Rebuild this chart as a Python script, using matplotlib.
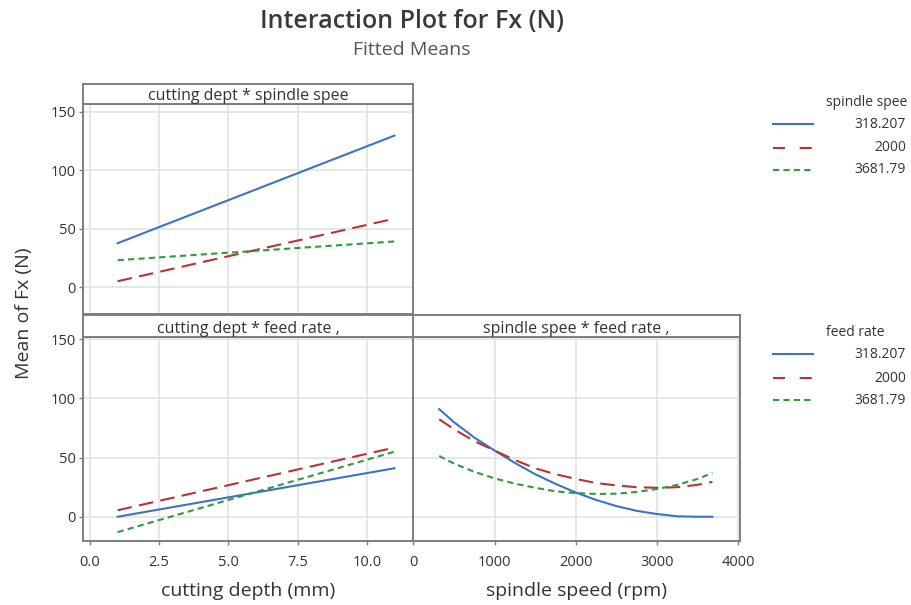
import numpy as np
import matplotlib
matplotlib.use("Agg")
import matplotlib.pyplot as plt
from matplotlib.lines import Line2D

plt.rcParams['font.family'] = ['Open Sans', 'DejaVu Sans']

# ---- data ----
levels = ["318.207", "2000", "3681.79"]
depth = [1, 11]

# cutting depth * spindle speed (one line per spindle speed level)
ds_blue = [37.5, 129.5]
ds_red = [5, 58.5]
ds_green = [23, 39]

# cutting depth * feed rate
df_blue = [0, 41]
df_red = [5.5, 58.5]
df_green = [-13, 55]

# spindle speed * feed rate
speed = [318.207, 500, 750, 1000, 1250, 1500, 1750, 2000, 2250, 2500, 2750, 3000, 3250, 3500, 3681.79]
sf_blue = [91, 80, 67, 56, 45.5, 36, 27.8, 20.5, 14.2, 9, 5, 2.3, 0.4, 0, 0]
sf_red = [82.5, 74, 64, 56, 48, 41, 36, 32, 28.5, 26.5, 25, 24.5, 25, 27, 29.5]
sf_green = [51.4, 45, 38, 32.5, 28, 24.5, 21.5, 20, 19.3, 19.5, 21, 23.5, 27, 32, 37]

colors = ['#3a74c2', '#b83333', '#2e9c3c']
styles = ['-', (0, (7, 3.5)), (0, (3, 2))]
legend_styles = ['-', (0, (5.8, 7)), (0, (3, 2))]

W, H = 911, 605
fig = plt.figure(figsize=(W/100, H/100), dpi=100)

def box(x0, y0, x1, y1):
    return [x0/W, 1 - y1/H, (x1-x0)/W, (y1-y0)/H]

frame = '#7e7e7e'
txt = '#333333'

def style_ax(ax):
    for s in ax.spines.values():
        s.set_color(frame)
        s.set_linewidth(1.4)
    ax.grid(True, color='#e3e3e3', linewidth=1.2)
    ax.set_axisbelow(True)
    ax.tick_params(colors=frame, labelcolor=txt, labelsize=10.5, length=3, width=1)
    ax.tick_params(axis='y', pad=2)
    ax.tick_params(axis='x', pad=7)

def strip(rect, label):
    s = fig.add_axes(rect)
    s.set_xticks([]); s.set_yticks([])
    for sp in s.spines.values():
        sp.set_color(frame)
        sp.set_linewidth(1.4)
    s.text(0.5, 0.38, label, ha='center', va='center', fontsize=11.5, color=txt, transform=s.transAxes)

# top-left
ax1 = fig.add_axes(box(83, 104, 413, 314))
for y, c, ls in zip([ds_blue, ds_red, ds_green], colors, styles):
    ax1.plot(depth, y, color=c, linestyle=ls, linewidth=1.5)
ax1.set_xlim(-0.25, 11.67)
ax1.set_ylim(-23, 156.5)
ax1.set_xticks([0, 2.5, 5, 7.5, 10])
ax1.set_yticks([0, 50, 100, 150])
style_ax(ax1)
ax1.tick_params(axis='x', length=0, labelbottom=False)
strip(box(83, 84, 413, 104), "cutting dept * spindle spee")

# bottom-left
ax2 = fig.add_axes(box(83, 337, 413, 541))
for y, c, ls in zip([df_blue, df_red, df_green], colors, styles):
    ax2.plot(depth, y, color=c, linestyle=ls, linewidth=1.5)
ax2.set_xlim(-0.25, 11.67)
ax2.set_ylim(-20.5, 152)
ax2.set_xticks([0, 2.5, 5, 7.5, 10])
ax2.set_xticklabels(["0.0", "2.5", "5.0", "7.5", "10.0"])
ax2.set_yticks([0, 50, 100, 150])
style_ax(ax2)
ax2.set_xlabel("cutting depth (mm)", fontsize=14, color=txt, labelpad=9)
strip(box(83, 315, 413, 337), "cutting dept * feed rate ,")

# bottom-right
ax3 = fig.add_axes(box(413, 337, 740, 541))
for y, c, ls in zip([sf_blue, sf_red, sf_green], colors, styles):
    ax3.plot(speed, y, color=c, linestyle=ls, linewidth=1.5)
ax3.set_xlim(-4, 4021)
ax3.set_ylim(-20.5, 152)
ax3.set_xticks([0, 1000, 2000, 3000, 4000])
ax3.set_yticks([0, 50, 100, 150])
style_ax(ax3)
ax3.tick_params(axis='y', length=0, labelleft=False)
ax3.set_xlabel("spindle speed (rpm)", fontsize=14, color=txt, labelpad=9)
strip(box(413, 315, 740, 337), "spindle spee * feed rate ,")

# titles
fig.text(412/W, 1 - 22/H, "Interaction Plot for Fx (N)", ha='center', va='center',
         fontsize=18, fontweight='semibold', color='#3a3a3a')
fig.text(412/W, 1 - 50/H, "Fitted Means", ha='center', va='center', fontsize=14, color='#555555')
fig.text(24/W, 1 - 313/H, "Mean of Fx (N)", ha='center', va='center', rotation=90,
         fontsize=14, color=txt)

# legends
def legend(title, ty, ys):
    fig.text(826/W, 1 - ty/H, title, ha='left', va='center', fontsize=10, color=txt)
    for lab, yy, c, ls in zip(levels, ys, colors, legend_styles):
        fig.add_artist(Line2D([773/W, 813/W], [1 - yy/H, 1 - yy/H], color=c,
                              linestyle=ls, linewidth=1.5, transform=fig.transFigure))
        fig.text(906/W, 1 - yy/H, lab, ha='right', va='center', fontsize=10, color=txt)

legend("spindle spee", 103, [124, 148, 170])
legend("feed rate", 333, [354, 378, 400])

fig.savefig("out.png", dpi=100)
